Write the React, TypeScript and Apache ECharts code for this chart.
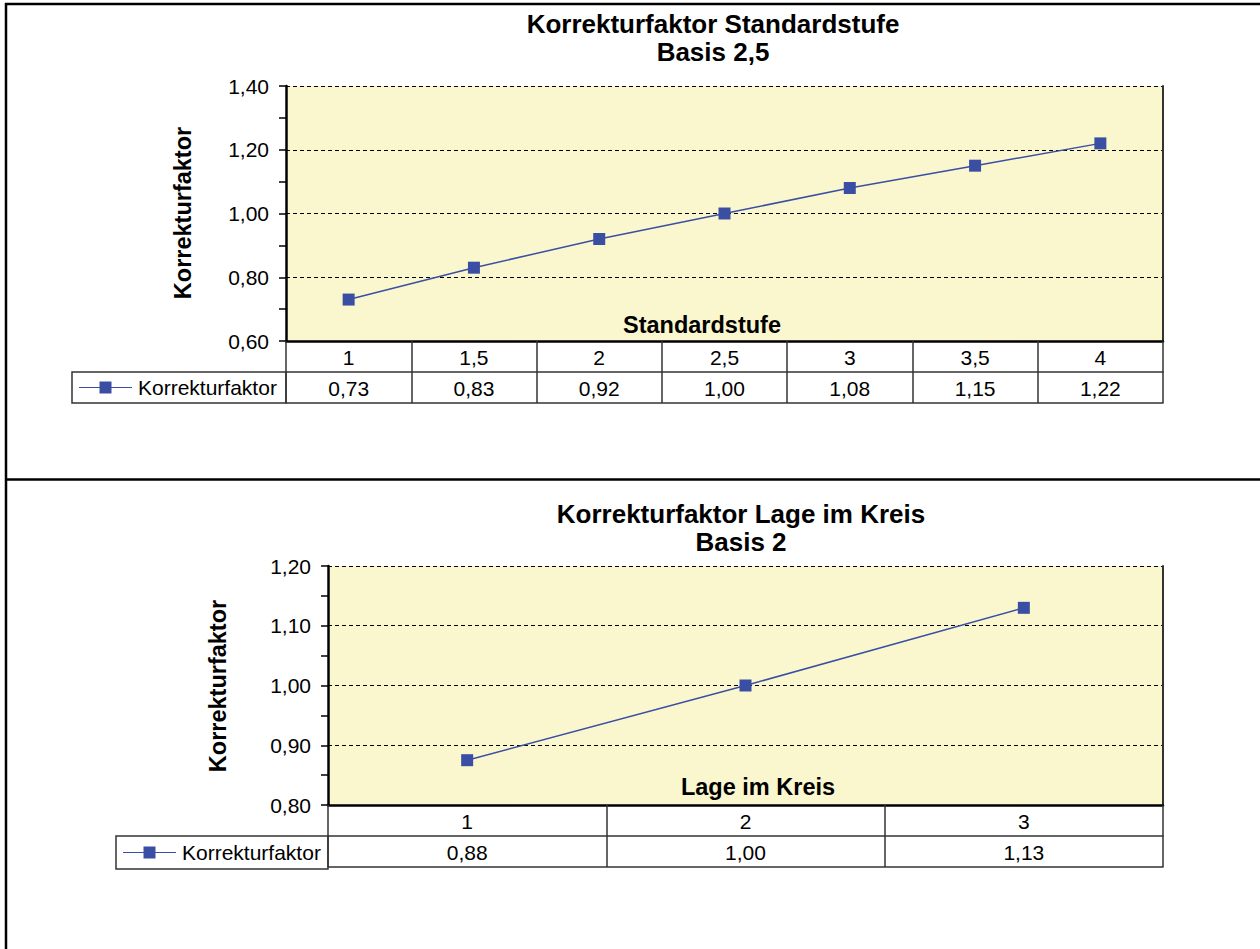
import React, { useEffect, useRef } from "react";
import * as echarts from "echarts";

// ---- data ----
const stdCategories = ["1", "1,5", "2", "2,5", "3", "3,5", "4"];
const stdValues = [0.73, 0.83, 0.92, 1.0, 1.08, 1.15, 1.22];
const stdYMin = 0.6;
const stdYMax = 1.4;
const stdYStep = 0.2;

const lageCategories = ["1", "2", "3"];
const lageValues = [0.875, 1.0, 1.13];
const lageYMin = 0.8;
const lageYMax = 1.2;
const lageYStep = 0.1;

const seriesName = "Korrekturfaktor";

const FONT = "Liberation Sans, Arial, sans-serif";
const fmt = (v: number) => v.toFixed(2).replace(".", ",");

const BLUE = "#3A4FA3";
const PLOT_BG = "#FAF7CE";
const TABLE_LINE = "#333333";
const LABEL_SIZE = 21;

function buildAxes(gridIndex: number, cats: string[], vals: number[], min: number, max: number, step: number) {
  const tickStyle = { color: TABLE_LINE, width: 1.5 };
  const labelStyle = { fontSize: LABEL_SIZE, color: "#000", fontFamily: FONT, margin: 6, interval: 0 };
  const xAxes = [
    {
      gridIndex,
      type: "category",
      data: cats,
      boundaryGap: true,
      axisLine: { lineStyle: { color: "#000", width: 2.5 } },
      axisTick: { show: true, length: 31, interval: 0, lineStyle: tickStyle },
      axisLabel: labelStyle,
      splitLine: { show: false },
      z: 10,
    },
    {
      gridIndex,
      type: "category",
      data: vals.map(fmt),
      position: "bottom",
      offset: 31,
      boundaryGap: true,
      axisLine: { lineStyle: tickStyle },
      axisTick: { show: true, length: 31, interval: 0, lineStyle: tickStyle },
      axisLabel: labelStyle,
      splitLine: { show: false },
    },
    {
      gridIndex,
      type: "category",
      data: cats,
      position: "bottom",
      offset: 62,
      boundaryGap: true,
      axisLine: { lineStyle: tickStyle },
      axisTick: { show: false },
      axisLabel: { show: false },
      splitLine: { show: false },
    },
  ];
  const yAxes = [
    {
      gridIndex,
      type: "value",
      min,
      max,
      interval: step,
      axisLine: { show: true, lineStyle: { color: "#000", width: 2.5 } },
      axisTick: { show: true, length: 7, lineStyle: { color: "#000", width: 1.5 } },
      minorTick: { show: true, splitNumber: 2, length: 7, lineStyle: { color: "#000", width: 1.5 } },
      axisLabel: { formatter: fmt, margin: 17, fontSize: LABEL_SIZE, color: "#000", fontFamily: FONT },
      splitLine: { show: true, lineStyle: { color: "#000", type: [4, 3], width: 1 } },
      minorSplitLine: { show: false },
    },
    {
      gridIndex,
      type: "value",
      position: "right",
      min,
      max,
      interval: step,
      axisLine: { show: true, lineStyle: { color: TABLE_LINE, width: 2 } },
      axisTick: { show: false },
      axisLabel: { show: false },
      splitLine: { show: false },
    },
  ];
  return { xAxes, yAxes };
}

const LEGEND_ICON = "path://M0,5.4H53V6.6H0Z M20.5,0H32.5V12H20.5Z";

export default function App() {
  const ref = useRef<HTMLDivElement>(null);

  useEffect(() => {
    document.body.style.margin = "0";
    if (!ref.current) return;
    const chart = echarts.init(ref.current, undefined, { renderer: "svg" });

    const a = buildAxes(0, stdCategories, stdValues, stdYMin, stdYMax, stdYStep);
    const b = buildAxes(1, lageCategories, lageValues, lageYMin, lageYMax, lageYStep);

    const titleFont = { fontSize: 26, fontWeight: "bold", fontFamily: FONT, fill: "#000" };
    const axisTitleFont = { fontSize: 23.5, fontWeight: "bold", fontFamily: FONT, fill: "#000" };

    const text = (x: number, y: number, t: string, style: any, rotation = 0) => ({
      type: "text",
      x,
      y,
      rotation,
      z: 100,
      style: { text: t, align: "center", verticalAlign: "middle", ...style },
    });
    const line = (x1: number, y1: number, x2: number, y2: number, w: number, c: string) => ({
      type: "line",
      z: 100,
      shape: { x1, y1, x2, y2 },
      style: { stroke: c, lineWidth: w },
    });

    const legendBase = {
      padding: 0,
      itemWidth: 53,
      itemHeight: 12,
      itemGap: 0,
      selectedMode: false,
      data: [{ name: seriesName, icon: LEGEND_ICON }],
      itemStyle: { color: BLUE, borderWidth: 0 },
      textStyle: { fontSize: LABEL_SIZE, color: "#000", fontFamily: FONT, padding: [0, 0, 0, 1] },
    };

    const option: any = {
      animation: false,
      backgroundColor: "#fff",
      grid: [
        { left: 286, top: 86, width: 877, height: 255, show: true, backgroundColor: PLOT_BG, borderWidth: 0 },
        { left: 328, top: 566, width: 835, height: 239, show: true, backgroundColor: PLOT_BG, borderWidth: 0 },
      ],
      xAxis: [...a.xAxes, ...b.xAxes],
      yAxis: [...a.yAxes, ...b.yAxes],
      legend: [
        { ...legendBase, left: 79, top: 377 },
        { ...legendBase, left: 123, top: 842 },
      ],
      series: [
        {
          name: seriesName,
          type: "line",
          xAxisIndex: 0,
          yAxisIndex: 0,
          data: stdValues,
          symbol: "rect",
          symbolSize: 12,
          lineStyle: { color: BLUE, width: 1.5 },
          itemStyle: { color: BLUE },
          z: 20,
        },
        {
          name: seriesName,
          type: "line",
          xAxisIndex: 3,
          yAxisIndex: 2,
          data: lageValues,
          symbol: "rect",
          symbolSize: 12,
          lineStyle: { color: BLUE, width: 1.5 },
          itemStyle: { color: BLUE },
          z: 20,
        },
      ],
      graphic: [
        // frame
        line(5, 4, 1260, 4, 2.5, "#000"),
        line(6, 3, 6, 949, 2.5, "#000"),
        line(5, 479.5, 1260, 479.5, 2.5, "#000"),
        // titles
        text(713, 24, "Korrekturfaktor Standardstufe", titleFont),
        text(713, 52, "Basis 2,5", titleFont),
        text(741, 514, "Korrekturfaktor Lage im Kreis", titleFont),
        text(741, 542, "Basis 2", titleFont),
        // axis titles
        text(702, 325, "Standardstufe", axisTitleFont),
        text(758, 787, "Lage im Kreis", axisTitleFont),
        text(183, 213, "Korrekturfaktor", axisTitleFont, Math.PI / 2),
        text(218, 686, "Korrekturfaktor", axisTitleFont, Math.PI / 2),
        // legend cells
        {
          type: "rect",
          z: 100,
          shape: { x: 72, y: 372, width: 214, height: 31 },
          style: { fill: "none", stroke: TABLE_LINE, lineWidth: 1.5 },
        },
        {
          type: "rect",
          z: 100,
          shape: { x: 116, y: 836, width: 212, height: 33 },
          style: { fill: "none", stroke: TABLE_LINE, lineWidth: 1.5 },
        },
      ],
    };

    chart.setOption(option);
    return () => chart.dispose();
  }, []);

  return <div ref={ref} style={{ width: 1260, height: 949 }} />;
}
